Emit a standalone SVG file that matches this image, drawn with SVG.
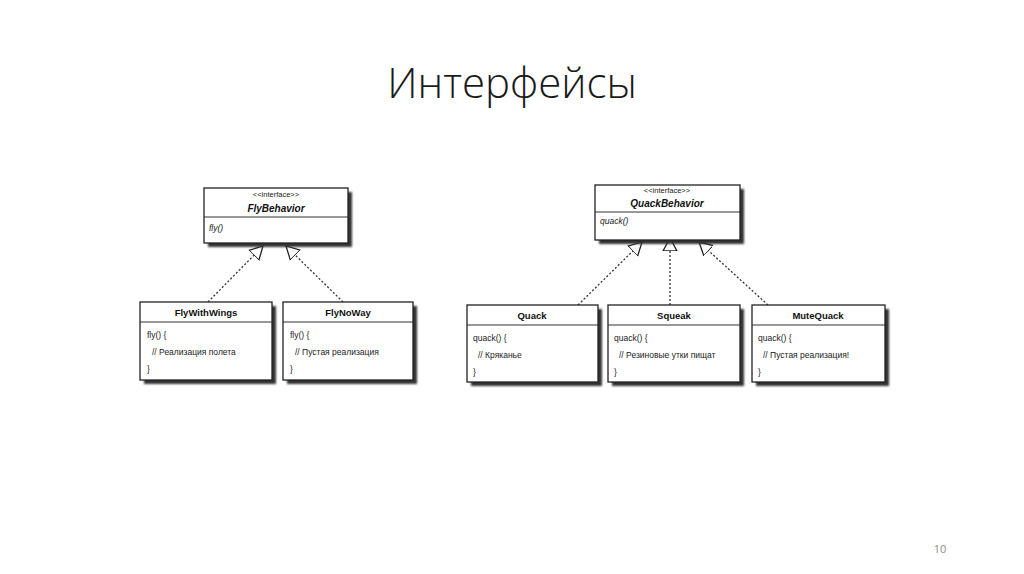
<svg xmlns="http://www.w3.org/2000/svg" width="1024" height="574" viewBox="0 0 1024 574">
<defs>
<filter id="blur" x="-10%" y="-10%" width="120%" height="130%"><feGaussianBlur stdDeviation="1.1"/></filter>
<marker id="tri" viewBox="0 0 14 16" refX="13" refY="8" markerWidth="14" markerHeight="16" markerUnits="userSpaceOnUse" orient="auto">
<path d="M13,8 L0,1 L0,15 Z" fill="#fff" stroke="#222" stroke-width="1.3"/>
</marker>
</defs>
<style>
.title{font-family:"Open Sans","Liberation Sans",sans-serif;font-weight:300;font-size:42px;fill:#1a1a1a}
.pg{font-family:"Open Sans","Liberation Sans",sans-serif;font-size:11px;fill:#8a8a8a}
.shadow{fill:#333;filter:url(#blur)}
.box{fill:#fff;stroke:#222;stroke-width:1.3}
.div{stroke:#333;stroke-width:1.1}
.st{font-family:"Liberation Sans",Arial,sans-serif;font-size:7.5px;fill:#222;text-anchor:middle}
.iname{font-family:"Liberation Sans",Arial,sans-serif;font-size:10px;font-weight:bold;font-style:italic;fill:#111;text-anchor:middle}
.imeth{font-family:"Liberation Sans",Arial,sans-serif;font-size:8.5px;font-style:italic;fill:#222}
.cname{font-family:"Liberation Sans",Arial,sans-serif;font-size:9.5px;font-weight:bold;fill:#111;text-anchor:middle}
.code{font-family:"Liberation Sans",Arial,sans-serif;font-size:8.5px;fill:#222}
.conn{fill:none;stroke:#333;stroke-width:1.3;stroke-dasharray:2 2}
</style>
<rect width="1024" height="574" fill="#fff"/>
<text class="title" x="512" y="98" text-anchor="middle">Интерфейсы</text>
<text class="pg" x="940" y="553" text-anchor="middle">10</text>

<g id="connectors">
<line class="conn" x1="208" y1="302" x2="263" y2="246" marker-end="url(#tri)"/>
<line class="conn" x1="343" y1="302" x2="286" y2="246" marker-end="url(#tri)"/>
<line class="conn" x1="578" y1="305" x2="642" y2="242" marker-end="url(#tri)"/>
<line class="conn" x1="670" y1="305" x2="670" y2="238" marker-end="url(#tri)"/>
<line class="conn" x1="768" y1="305" x2="699" y2="242" marker-end="url(#tri)"/>
</g>

<g id="FlyBehavior">
<rect class="shadow" x="208" y="192" width="144" height="55"/>
<rect class="box" x="204" y="188" width="144" height="55"/>
<line class="div" x1="204" y1="217" x2="348" y2="217"/>
<text class="st" x="276" y="197">&lt;&lt;interface&gt;&gt;</text>
<text class="iname" x="276" y="212">FlyBehavior</text>
<text class="imeth" x="209" y="231">fly()</text>
</g>

<g id="QuackBehavior">
<rect class="shadow" x="599" y="189" width="145" height="55"/>
<rect class="box" x="595" y="185" width="145" height="55"/>
<line class="div" x1="595" y1="212" x2="740" y2="212"/>
<text class="st" x="667" y="193">&lt;&lt;interface&gt;&gt;</text>
<text class="iname" x="667" y="207">QuackBehavior</text>
<text class="imeth" x="600" y="224">quack()</text>
</g>

<g id="FlyWithWings">
<rect class="shadow" x="144" y="306" width="132" height="78"/>
<rect class="box" x="140" y="302" width="132" height="78"/>
<line class="div" x1="140" y1="322" x2="272" y2="322"/>
<text class="cname" x="206" y="316">FlyWithWings</text>
<text class="code" x="147" y="338">fly() {</text>
<text class="code" x="152" y="355">// Реализация полета</text>
<text class="code" x="147" y="372">}</text>
</g>

<g id="FlyNoWay">
<rect class="shadow" x="287" y="306" width="130" height="78"/>
<rect class="box" x="283" y="302" width="130" height="78"/>
<line class="div" x1="283" y1="322" x2="413" y2="322"/>
<text class="cname" x="348" y="316">FlyNoWay</text>
<text class="code" x="290" y="338">fly() {</text>
<text class="code" x="295" y="355">// Пустая реализация</text>
<text class="code" x="290" y="372">}</text>
</g>

<g id="Quack">
<rect class="shadow" x="471" y="309" width="131" height="77"/>
<rect class="box" x="467" y="305" width="131" height="77"/>
<line class="div" x1="467" y1="325" x2="598" y2="325"/>
<text class="cname" x="532" y="319">Quack</text>
<text class="code" x="473" y="341">quack() {</text>
<text class="code" x="478" y="358">// Кряканье</text>
<text class="code" x="473" y="375">}</text>
</g>

<g id="Squeak">
<rect class="shadow" x="612" y="309" width="132" height="77"/>
<rect class="box" x="608" y="305" width="132" height="77"/>
<line class="div" x1="608" y1="325" x2="740" y2="325"/>
<text class="cname" x="674" y="319">Squeak</text>
<text class="code" x="614" y="341">quack() {</text>
<text class="code" x="619" y="358">// Резиновые утки пищат</text>
<text class="code" x="614" y="375">}</text>
</g>

<g id="MuteQuack">
<rect class="shadow" x="756" y="309" width="133" height="77"/>
<rect class="box" x="752" y="305" width="133" height="77"/>
<line class="div" x1="752" y1="325" x2="885" y2="325"/>
<text class="cname" x="818" y="319">MuteQuack</text>
<text class="code" x="758" y="341">quack() {</text>
<text class="code" x="763" y="358">// Пустая реализация!</text>
<text class="code" x="758" y="375">}</text>
</g>
</svg>
